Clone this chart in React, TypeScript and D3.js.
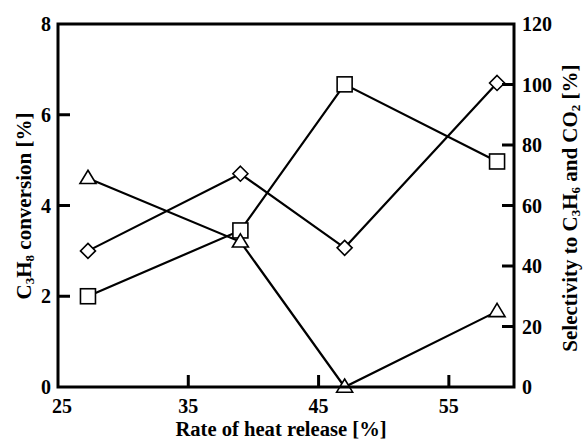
import React from "react";
import * as d3 from "d3";

const heatRelease = [27.3, 39, 47, 58.7];
const conversion = [2.0, 3.45, 6.67, 4.97];
const selectivityC3H6 = [45, 70.5, 46, 100.5];
const selectivityCO2 = [69, 48, 0, 25];

const xTicks = [25, 35, 45, 55];
const leftTicks = [0, 2, 4, 6, 8];
const rightTicks = [0, 20, 40, 60, 80, 100, 120];

const W = 584;
const H = 441;
const m = { left: 58, right: 514, top: 24, bottom: 387 };
const textStyle: React.CSSProperties = {
  fontFamily: '"Liberation Serif", "DejaVu Serif", serif',
  fontWeight: 700,
};

export default function App() {
  const x = d3.scaleLinear().domain([25, 60]).range([m.left, m.right]);
  const yL = d3.scaleLinear().domain([0, 8]).range([m.bottom, m.top]);
  const yR = d3.scaleLinear().domain([0, 120]).range([m.bottom, m.top]);

  const lineL = d3.line<number>().x((_, i) => x(heatRelease[i])).y((d) => yL(d));
  const lineR = d3.line<number>().x((_, i) => x(heatRelease[i])).y((d) => yR(d));

  const sq = 7.5;
  const di = 7.5;
  const tri = 8;

  return (
    <svg width={W} height={H} style={{ position: "absolute", left: 0, top: 0 }}>
      <rect width={W} height={H} fill="#fff" />
      {/* series lines */}
      <path d={lineL(conversion) ?? ""} fill="none" stroke="#000" strokeWidth={2.2} />
      <path d={lineR(selectivityC3H6) ?? ""} fill="none" stroke="#000" strokeWidth={2.2} />
      <path d={lineR(selectivityCO2) ?? ""} fill="none" stroke="#000" strokeWidth={2.2} />

      {/* markers */}
      {conversion.map((v, i) => (
        <rect key={"s" + i} x={x(heatRelease[i]) - sq} y={yL(v) - sq} width={sq * 2} height={sq * 2}
          fill="#fff" stroke="#000" strokeWidth={1.6} />
      ))}
      {selectivityC3H6.map((v, i) => {
        const cx = x(heatRelease[i]);
        const cy = yR(v);
        return (
          <path key={"d" + i} d={`M${cx},${cy - di}L${cx + di},${cy}L${cx},${cy + di}L${cx - di},${cy}Z`}
            fill="#fff" stroke="#000" strokeWidth={1.6} />
        );
      })}
      {selectivityCO2.map((v, i) => {
        const cx = x(heatRelease[i]);
        const cy = yR(v);
        return (
          <path key={"t" + i} d={`M${cx},${cy - tri}L${cx + tri},${cy + tri * 0.65}L${cx - tri},${cy + tri * 0.65}Z`}
            fill="#fff" stroke="#000" strokeWidth={1.6} />
        );
      })}

      {/* frame */}
      <rect x={m.left} y={m.top} width={m.right - m.left} height={m.bottom - m.top}
        fill="none" stroke="#000" strokeWidth={3} />

      <g style={textStyle}>
        {/* x ticks */}
        {xTicks.map((t, i) => (
          <g key={"x" + t}>
            {t > 25 && <line x1={x(t)} x2={x(t)} y1={m.bottom} y2={m.bottom - 12} stroke="#000" strokeWidth={3} />}
            <text x={x(t) + (i === 0 ? 4 : 0)} y={413} fontSize={20} textAnchor="middle">{t}</text>
          </g>
        ))}
        {/* left ticks */}
        {leftTicks.map((t) => (
          <g key={"l" + t}>
            {t > 0 && t < 8 && <line x1={m.left} x2={m.left + 12} y1={yL(t)} y2={yL(t)} stroke="#000" strokeWidth={3} />}
            <text x={51} y={yL(t) + 7} fontSize={20} textAnchor="end">{t}</text>
          </g>
        ))}
        {/* right ticks */}
        {rightTicks.map((t) => (
          <g key={"r" + t}>
            {t > 0 && t < 120 && <line x1={m.right} x2={m.right - 12} y1={yR(t)} y2={yR(t)} stroke="#000" strokeWidth={3} />}
            <text x={522} y={yR(t) + 7} fontSize={20} textAnchor="start">{t}</text>
          </g>
        ))}

        {/* axis titles */}
        <text x={281} y={436} fontSize={20.6} textAnchor="middle">Rate of heat release [%]</text>
        <text transform="translate(31,206) rotate(-90)" fontSize={21} textAnchor="middle">
          C<tspan fontSize={13} dy={3}>3</tspan><tspan dy={-3}>H</tspan><tspan fontSize={13} dy={3}>8</tspan>
          <tspan dy={-3}> conversion [%]</tspan>
        </text>
        <text transform="translate(577,208) rotate(-90)" fontSize={21} textAnchor="middle">
          Selectivity to C<tspan fontSize={13} dy={3}>3</tspan><tspan dy={-3}>H</tspan><tspan fontSize={13} dy={3}>6</tspan>
          <tspan dy={-3}> and CO</tspan><tspan fontSize={13} dy={3}>2</tspan><tspan dy={-3}> [%]</tspan>
        </text>
      </g>
    </svg>
  );
}
